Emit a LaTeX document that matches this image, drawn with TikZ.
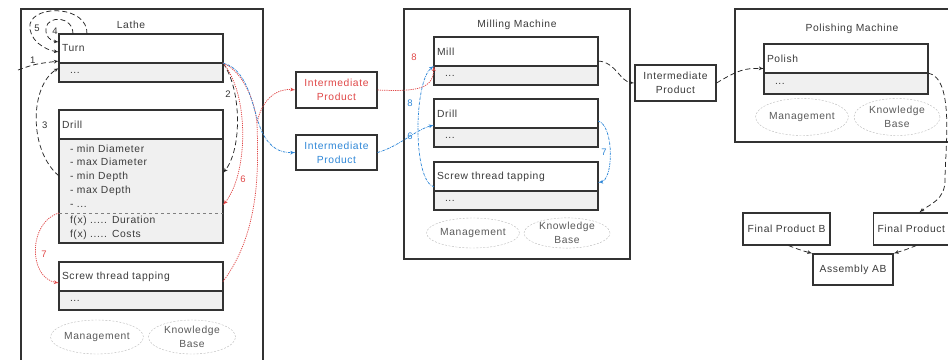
\documentclass[tikz,border=0pt]{standalone}
\usepackage{fontspec}
\setmainfont[LetterSpace=6]{Liberation Sans}
\usetikzlibrary{arrows,positioning,shapes.geometric}

\definecolor{boxgray}{HTML}{F0F0F0}
\definecolor{linegray}{HTML}{333333}
\definecolor{txtgray}{HTML}{3A3A3A}
\definecolor{flowred}{HTML}{E04848}
\definecolor{flowblue}{HTML}{3088D8}

\begin{document}
\begin{tikzpicture}[x=1pt, y=-1pt, font=\fontsize{10.3}{13.8}\selectfont, text=txtgray]
	\tikzset{machine/.style = {draw=linegray, line width=1.1pt}}
	\tikzset{head/.style = {draw=linegray, line width=1.1pt, fill=white, anchor=north west, outer sep=0pt, text width=158pt, inner xsep=3pt, inner ysep=0pt, minimum height=29pt, align=left}}
	\tikzset{body/.style = {draw=linegray, line width=1.1pt, fill=boxgray, outer sep=0pt, text width=142pt, inner xsep=11pt, inner ysep=0pt, minimum height=19pt, align=left}}
	\tikzset{store/.style = {ellipse, draw=gray!55, dash pattern=on 2pt off 1.5pt, text=gray!70!black, align=center, inner sep=0pt}}
	\tikzset{product/.style = {draw=linegray, line width=1.1pt, fill=white, align=center, inner sep=0pt}}
	\tikzset{edge/.style = {->, > = latex', gray!30!black, dash pattern=on 5pt off 3pt, line width=0.75pt}}
	\tikzset{redflow/.style = {->, > = latex', flowred, dash pattern=on 1.2pt off 1pt, line width=0.75pt}}
	\tikzset{blueflow/.style = {->, > = latex', flowblue, dash pattern=on 2.5pt off 1pt on 0.6pt off 1pt, line width=0.75pt}}
	\tikzset{num/.style = {font=\fontsize{9.5}{10}\selectfont, text=linegray, inner sep=1pt}}

	\useasboundingbox (0,0) rectangle (948,359);
	\clip (0,0) rectangle (948,359);

	% machines
	\draw[machine] (21,9) rectangle (263,370);
	\node (lathe) at (131,25) {Lathe};
	\draw[machine] (404,9) rectangle (630,259);
	\node (milling) at (517,25) {Milling Machine};
	\draw[machine] (735,9) rectangle (965,142);
	\node (polishing) at (852,29) {Polishing Machine};

	% lathe
	\node[head] (turn) at (59,34) {Turn};
	\node[body, below=0pt of turn] (turnb) {...};
	\node[head] (drill) at (59,110) {Drill};
	\node[body, draw=none, below=0pt of drill, minimum height=74pt] (drilla) {- min Diameter\\- max Diameter\\- min Depth\\- max Depth\\- ...};
	\node[body, draw=none, below=0pt of drilla, minimum height=30pt] (drillf) {f(x) ..... Duration\\f(x) ..... Costs};
	\draw[machine] (drilla.north west) rectangle (drillf.south east);
	\draw[gray, dashed, line width=0.6pt] (drilla.south west) -- (drilla.south east);
	\node[head] (screw) at (59,262) {Screw thread tapping};
	\node[body, below=0pt of screw] (screwb) {...};
	\node[store, minimum width=85pt, minimum height=34pt] (manage1) at (97,337) {Management};
	\node[store, minimum width=87pt, minimum height=34pt] (know1) at (192,337) {Knowledge\\Base};

	% milling machine
	\node[head] (mill) at (434,37) {Mill};
	\node[body, below=0pt of mill] (millb) {...};
	\node[head] (drill2) at (434,99) {Drill};
	\node[body, below=0pt of drill2] (drill2b) {...};
	\node[head] (screw2) at (434,162) {Screw thread tapping};
	\node[body, below=0pt of screw2] (screw2b) {...};
	\node[store, minimum width=87pt, minimum height=30pt] (manage2) at (473,233) {Management};
	\node[store, minimum width=86pt, minimum height=30pt] (know2) at (567,233) {Knowledge\\Base};

	% polishing machine
	\node[head] (polish) at (764,44) {Polish};
	\node[body, below=0pt of polish, minimum height=21pt] (polishb) {...};
	\node[store, minimum width=86pt, minimum height=37pt] (manage3) at (802,117) {Management};
	\node[store, minimum width=86pt, minimum height=37pt] (know3) at (897,117) {Knowledge\\Base};

	% products
	\node[product, minimum width=81pt, minimum height=36pt, text=flowred] (ipred) at (336.5,90) {Intermediate\\Product};
	\node[product, minimum width=81pt, minimum height=35pt, text=flowblue] (ipblue) at (336.5,152.5) {Intermediate\\Product};
	\node[product, minimum width=81pt, minimum height=36pt] (ip3) at (675.5,83) {Intermediate\\Product};
	\node[product, minimum width=87pt, minimum height=32pt] (fpb) at (786.5,229) {Final Product B};
	\node[product, minimum height=32pt, anchor=west, inner xsep=4pt] (fp) at (873,229) {Final Product};
	\node[product, minimum width=80pt, minimum height=31pt] (asm) at (853,269.5) {Assembly AB};

	% flows in the lathe
	\coordinate (in1) at (18,70);
	\draw[edge] (in1) .. controls (35,64) .. ([yshift=-12.5pt]turn.west) node[num, pos=0.4, above] {1};
	\draw[edge] (turn.south east) .. controls (242,90) and (242,150) .. ([yshift=3pt]drilla.east) node[num, pos=0.3, left=3pt] {2};
	\draw[edge] (drilla.west) .. controls (28,150) and (30,85) .. ([yshift=4.5pt]turnb.west) node[num, pos=0.45, right=4pt] {3};
	\draw[edge] ([xshift=14pt]turn.north west) .. controls (73,16) and (48,15) .. (46,28) .. controls (45,36) and (50,41) .. ([yshift=6.5pt]turn.west);
	\node[num] (l4) at (55,31) {4};
	\draw[edge] ([xshift=28pt]turn.north west) .. controls (88,6) and (35,4) .. (30,24) .. controls (28,40) and (45,50) .. ([yshift=-3.5pt]turn.west);
	\node[num] (l5) at (37,28) {5};

	% red route
	\coordinate (rj) at (257,123);
	\draw[redflow] (turn.south east) .. controls (250,95) and (248,175) .. ([yshift=-29pt]drilla.east) node[num, text=flowred, pos=0.78, right=3pt] {6};
	\draw[redflow] (drilla.south west) .. controls (28,222) and (28,278) .. ([yshift=-6.5pt]screw.west) node[num, text=flowred, pos=0.55, right=4pt] {7};
	\draw[redflow, -] (turn.south east) .. controls (240,70) and (254,95) .. (rj);
	\draw[redflow] ([yshift=-5pt]screw.east) .. controls (262,230) and (258,160) .. (rj) .. controls (262,98) and (278,88) .. (ipred.west);
	\draw[redflow] (ipred.east) .. controls (420,92) and (433,88) .. (mill.south west) node[num, text=flowred, at end, xshift=-20pt, yshift=9pt] {8};

	% blue route
	\draw[blueflow] (turn.south east) .. controls (250,70) and (252,110) .. (262,132) .. controls (270,148) and (280,153) .. (ipblue.west);
	\draw[blueflow] (ipblue.east) .. controls (400,146) and (415,130) .. ([yshift=3pt]drill2.south west) node[num, text=flowblue, at end, xshift=-24pt, yshift=-11pt] {6};
	\draw[blueflow] ([yshift=7pt]drill2.south east) .. controls (614,125) and (614,180) .. ([yshift=-6pt]screw2.east) node[num, text=flowblue, pos=0.5, left=2pt] {7};
	\draw[blueflow] ([yshift=4pt]screw2.south west) .. controls (412,180) and (414,80) .. (mill.south west) node[num, text=flowblue, at end, xshift=-24pt, yshift=-37pt] {8};

	% to polishing and assembly
	\draw[edge] ([yshift=-9.5pt]mill.east) .. controls (616,62) and (620,82) .. (ip3.west);
	\draw[edge] (ip3.east) .. controls (738,70) and (745,68) .. ([yshift=-10pt]polish.west);
	\draw[edge] (polish.south east) .. controls (955,78) and (945,150) .. (945,180) .. controls (945,200) and (930,204) .. ([xshift=8pt]fp.north);
	\draw[edge] ([xshift=2pt]fpb.south) .. controls (800,250) .. (asm.north west);
	\draw[edge] ([xshift=5pt]fp.south) .. controls (905,250) .. (asm.north east);
\end{tikzpicture}
\end{document}
